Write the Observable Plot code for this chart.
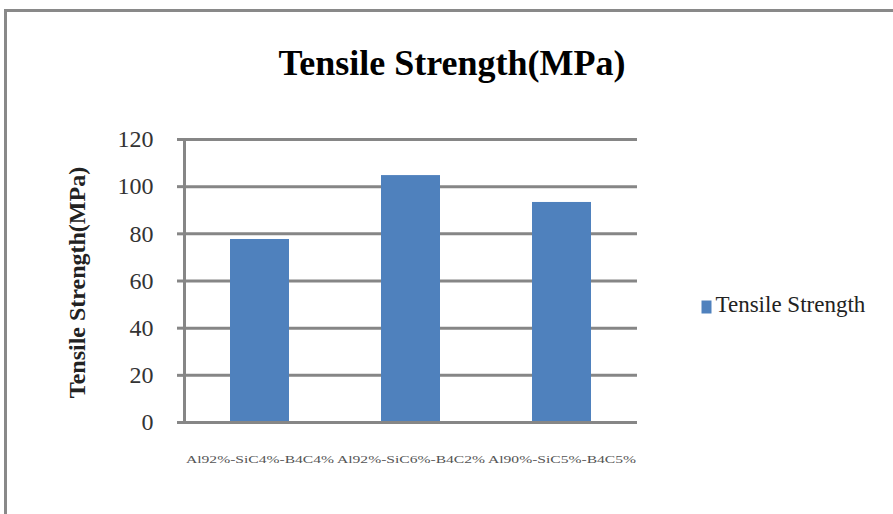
<!DOCTYPE html>
<html>
<head>
<meta charset="utf-8">
<script src="https://cdn.jsdelivr.net/npm/d3@7"></script>
<script src="https://cdn.jsdelivr.net/npm/@observablehq/plot@0.6"></script>
<style>
  html, body { margin: 0; padding: 0; background: #fff; overflow: hidden; }
  #wrap { position: relative; width: 893px; height: 514px; }
  #border { position: absolute; left: 4px; top: 9px; width: 1000px; height: 1000px;
            border-top: 3px solid #898989; border-left: 3px solid #898989; }
  #chart { position: absolute; left: 0; top: 0; }
</style>
</head>
<body>
<div id="wrap">
  <div id="border"></div>
  <div id="chart"></div>
</div>
<script>
// Composite compositions and their measured tensile strength (MPa)
const categories = ["Al92%-SiC4%-B4C4%", "Al92%-SiC6%-B4C2%", "Al90%-SiC5%-B4C5%"];
const strength = [77.6, 104.7, 93.3];
const yTicks = [0, 20, 40, 60, 80, 100, 120];
const yTickLabels = ["0", "20", "40", "60", "80", "100", "120"];
const titleText = "Tensile Strength(MPa)";
const yTitle = "Tensile Strength(MPa)";
const seriesName = "Tensile Strength";

const rows = categories.map((c, i) => ({category: c, value: strength[i]}));
const gridColor = "#868686";
const barColor = "#4f81bd";

// Legend key: a small upright rectangle
const keySymbol = {draw(ctx) { ctx.rect(-5, -6.5, 10, 13); }};

const chart = Plot.plot({
  width: 893,
  height: 514,
  marginLeft: 184,
  marginRight: 256,
  marginTop: 139,
  marginBottom: 92,
  style: {fontFamily: "'Liberation Serif', 'Times New Roman', serif", background: "transparent", overflow: "visible"},
  x: {domain: categories, paddingInner: 0.61, paddingOuter: 0.305, label: null},
  y: {domain: [0, 120], label: null},
  marks: [
    Plot.ruleY(yTicks, {stroke: gridColor, strokeWidth: 3}),
    Plot.axisY(yTicks, {tickSize: 7, stroke: gridColor, strokeWidth: 3, tickFormat: () => "", label: null}),
    Plot.axisY(yTicks, {tickSize: 0, tickPadding: 31, fontSize: 24, fill: "#333", label: null,
                        tickFormat: (d) => yTickLabels[yTicks.indexOf(d)]}),
    Plot.barY(rows, {x: "category", y: "value", fill: barColor}),
    Plot.ruleY([0], {stroke: gridColor, strokeWidth: 3}),
    Plot.frame({anchor: "left", stroke: gridColor, strokeWidth: 3}),
    Plot.axisX({tickSize: 0, tickPadding: 33, fontSize: 10, fill: "#555", label: null}),
    Plot.text([titleText], {frameAnchor: "top", dx: 41, dy: -76, fontSize: 36, fontWeight: "bold",
                            fill: "#000", textAnchor: "middle", lineAnchor: "middle", text: (d) => d}),
    Plot.text([yTitle], {frameAnchor: "left", dx: -107, dy: 1.5, rotate: -90, fontSize: 24,
                         fontWeight: "bold", fill: "#222", textAnchor: "middle", lineAnchor: "middle",
                         text: (d) => d}),
    Plot.dot([seriesName], {frameAnchor: "right", dx: 69, dy: 26, symbol: keySymbol, r: 6,
                            fill: barColor, stroke: null}),
    Plot.text([seriesName], {frameAnchor: "right", dx: 78, dy: 24, textAnchor: "start", fontSize: 23,
                             fill: "#222", lineAnchor: "middle", text: (d) => d})
  ]
});

// Category labels are stretched to fill their band width
chart.querySelectorAll('[aria-label="x-axis tick label"] text').forEach((t) => {
  t.setAttribute("textLength", 148);
  t.setAttribute("lengthAdjust", "spacingAndGlyphs");
});

document.getElementById("chart").append(chart);
</script>
</body>
</html>
